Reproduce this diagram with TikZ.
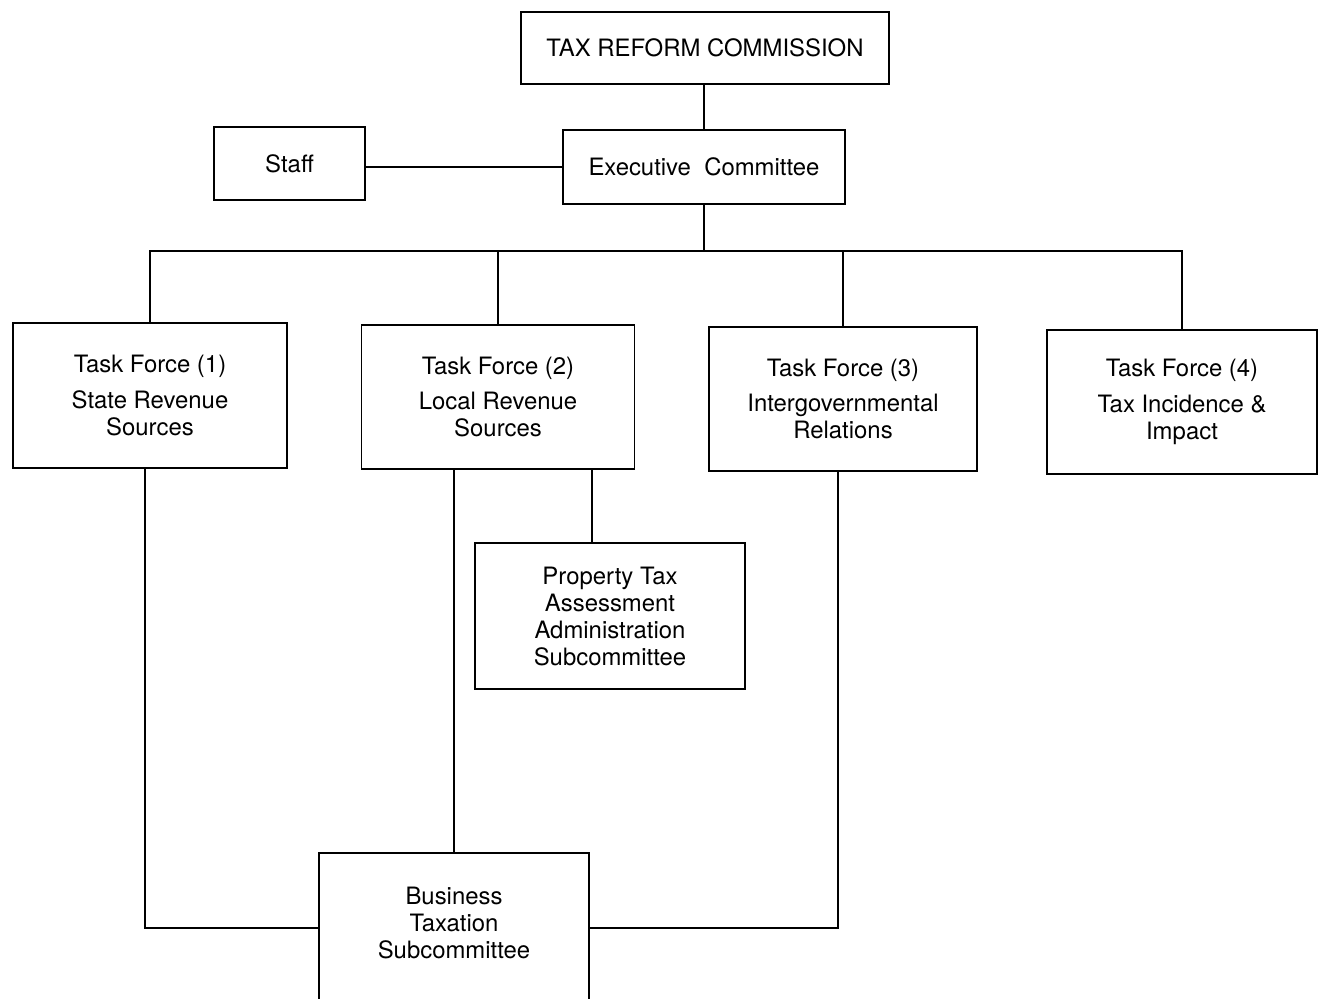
\documentclass[tikz,border=0pt]{standalone}
\usepackage{fontspec}
\setmainfont{TeX Gyre Heros}
\usepackage{tikz}
\usetikzlibrary{positioning}

\begin{document}
\begin{tikzpicture}[x=0.025cm,y=-0.025cm,line width=1.3pt,
  unit/.style={draw, align=center, inner sep=0pt,
    font=\fontsize{17}{19.2}\selectfont},
  taskforce/.style={unit, minimum width=6.8cm, minimum height=3.6cm}]
\useasboundingbox (0,0) rectangle (1319,998);
\clip (0,0) rectangle (1319,998);

\node[unit, minimum width=9.2cm, minimum height=1.8cm] (commission) at (705,48) {TAX REFORM COMMISSION};
\node[unit, minimum width=7.05cm, minimum height=1.85cm] (exec) at (704,167) {Executive\ \ Committee};
\node[unit, minimum width=3.775cm, minimum height=1.825cm] (staff) at (289.5,163.5) {Staff};

\node[taskforce, minimum width=6.85cm, minimum height=3.625cm] (tf1) at (150,395.5) {Task Force (1)\\[6pt]State Revenue\\Sources};
\node[taskforce, minimum width=6.825cm] (tf2) at (498,397) {Task Force (2)\\[6pt]Local Revenue\\Sources};
\node[taskforce, minimum width=6.7cm] (tf3) at (843,399) {Task Force (3)\\[6pt]Intergovernmental\\Relations};
\node[taskforce, minimum width=6.75cm] (tf4) at (1182,402) {Task Force (4)\\[6pt]Tax Incidence \&\\Impact};

\node[unit, minimum width=6.75cm, minimum height=3.65cm] (ptax) at (610,616) {Property Tax\\Assessment\\Administration\\Subcommittee};
\node[unit, minimum width=6.75cm, minimum height=3.75cm] (business) at (454,928) {Business\\Taxation\\Subcommittee\\[-12pt]};

\coordinate (bus) at (705,251);

\draw (exec.north |- commission.south) -- (exec.north);
\draw (staff.east |- exec) -- (exec.west);
\draw (exec.south) -- (exec.south |- bus);
\draw (tf1.north) |- (bus) -| (tf4.north);
\draw (tf2.north) -- (tf2.north |- bus);
\draw (tf3.north) -- (tf3.north |- bus);

\draw ([xshift=-0.45cm]ptax.north) -- ([xshift=-0.45cm]ptax.north |- tf2.south);
\draw (business.north) -- (business.north |- tf2.south);
\draw ([xshift=-0.125cm]tf1.south) |- (business.west);
\draw ([xshift=-0.125cm]tf3.south) |- (business.east);
\end{tikzpicture}
\end{document}
